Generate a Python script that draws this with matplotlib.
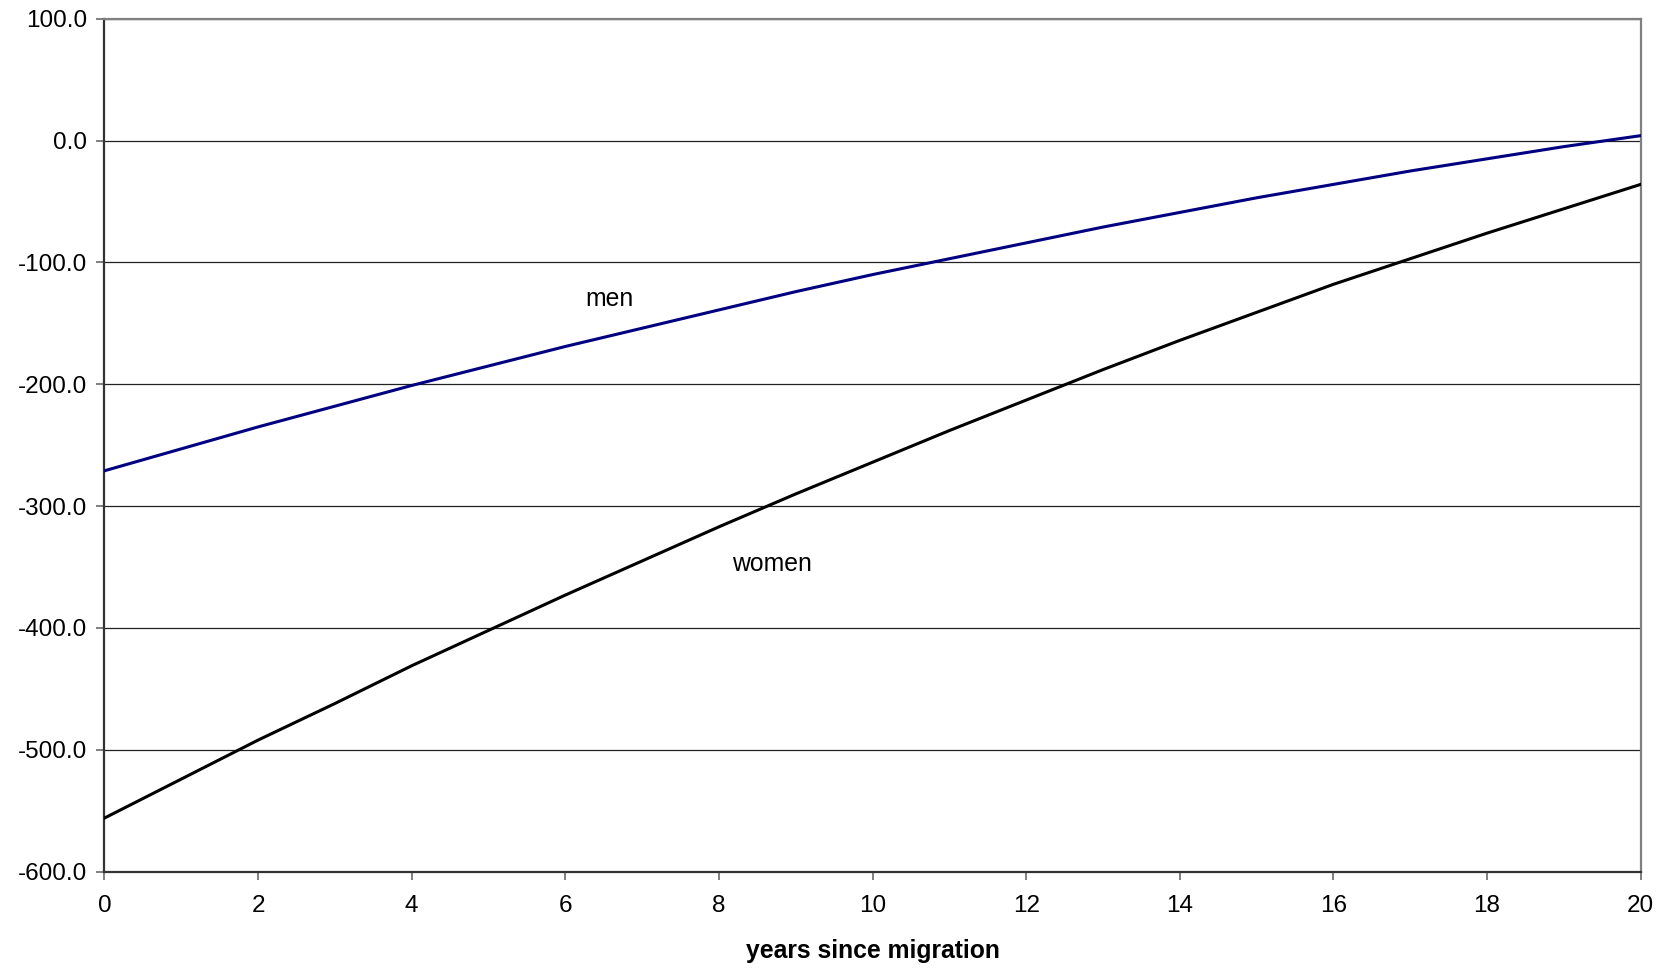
import matplotlib
matplotlib.use("Agg")
import matplotlib.pyplot as plt
from matplotlib.ticker import FormatStrFormatter

plt.rcParams["font.family"] = ["Liberation Sans", "DejaVu Sans"]

years = list(range(0, 21))
men = [-271, -253, -235, -218, -201, -185, -169, -154, -139, -124, -110,
       -97, -84, -71, -59, -47, -36, -25, -15, -5, 4]
women = [-556, -524, -492, -462, -431, -402, -373, -345, -317, -290, -264,
         -238, -213, -188, -164, -141, -118, -97, -76, -56, -36]

fig = plt.figure(figsize=(16.69, 9.68), dpi=100)
ax = fig.add_axes([0.0626, 0.0995, 0.9204, 0.8812])

ax.plot(years, men, color="#000080", linewidth=2.2, zorder=3)
ax.plot(years, women, color="black", linewidth=2.2, zorder=3)

ax.text(6.57, -136, "men", fontsize=17.8, ha="center", va="baseline")
ax.text(8.69, -353, "women", fontsize=17.8, ha="center", va="baseline")

ax.set_xlim(0, 20)
ax.set_ylim(-600, 100)
ax.set_xticks(range(0, 21, 2))
ax.set_yticks(range(-600, 101, 100))
ax.yaxis.set_major_formatter(FormatStrFormatter("%.1f"))
ax.grid(axis="y", color="#222222", linewidth=0.9)
ax.set_axisbelow(True)

for side in ("top", "right"):
    ax.spines[side].set_color("#808080")
    ax.spines[side].set_linewidth(1.6)
for side in ("left", "bottom"):
    ax.spines[side].set_color("#333333")
    ax.spines[side].set_linewidth(1.6)

ax.tick_params(axis="both", direction="out", length=5.5, width=1.4,
               color="#808080", labelsize=17.5)
ax.tick_params(axis="y", pad=7)
ax.tick_params(axis="x", pad=11)

ax.set_xlabel("years since migration", fontsize=17.8, fontweight="bold", labelpad=16)

fig.savefig("out.png", dpi=100)
